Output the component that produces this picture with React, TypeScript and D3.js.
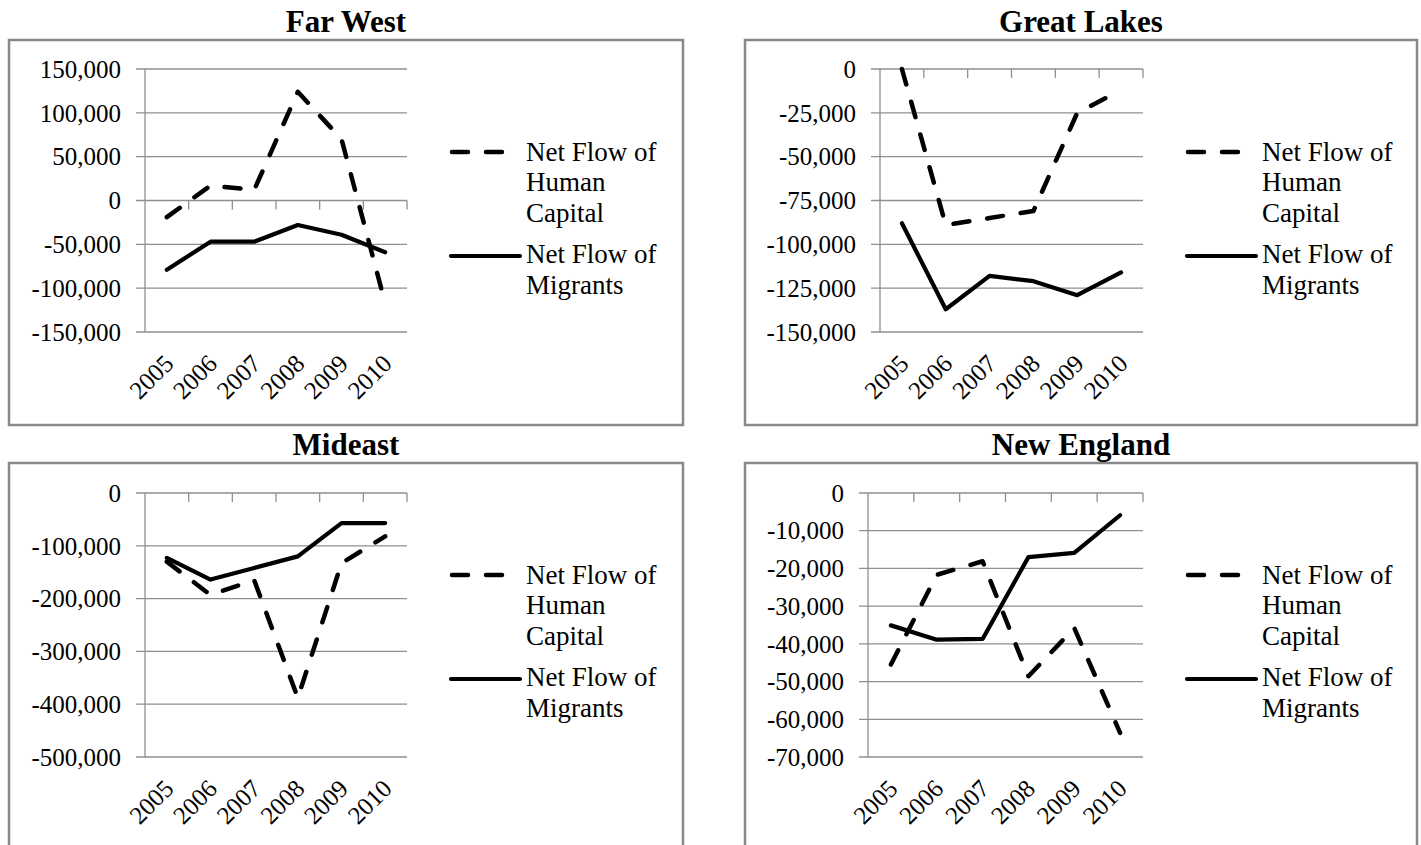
import React from 'react';
import * as d3 from 'd3';

const years = ['2005', '2006', '2007', '2008', '2009', '2010'];

const farWestHuman = [-19000, 17000, 12000, 124000, 70000, -117000];
const farWestMigrants = [-79000, -47000, -47000, -28000, -39000, -59000];
const greatLakesHuman = [0, -89000, -85000, -81000, -25000, -12000];
const greatLakesMigrants = [-88000, -137000, -118000, -121000, -129000, -116000];
const mideastHuman = [-130000, -193000, -165000, -388000, -133000, -82000];
const mideastMigrants = [-123000, -164000, -142000, -120000, -57000, -57000];
const newEnglandHuman = [-45500, -21700, -18100, -48600, -35800, -63600];
const newEnglandMigrants = [-35100, -38900, -38700, -17000, -15900, -5900];

const farWestTicks = [150000, 100000, 50000, 0, -50000, -100000, -150000];
const greatLakesTicks = [0, -25000, -50000, -75000, -100000, -125000, -150000];
const mideastTicks = [0, -100000, -200000, -300000, -400000, -500000];
const newEnglandTicks = [0, -10000, -20000, -30000, -40000, -50000, -60000, -70000];

const humanLegend = ['Net Flow of', 'Human', 'Capital'];
const migrantLegend = ['Net Flow of', 'Migrants'];

const fmt = d3
  .formatLocale({ decimal: '.', thousands: ',', grouping: [3], currency: ['$', ''], minus: '-' })
  .format(',');

const FONT = '"Liberation Serif", "Times New Roman", serif';
const GRID = '#8f8f8f';
const BORDER = '#898989';

type PanelProps = {
  title: string;
  human: number[];
  migrants: number[];
  ticks: number[];
  boxX: number;
  boxY: number;
  boxW: number;
  boxH: number;
  plotLeft: number;
  plotRight: number;
  plotTop: number;
  plotBottom: number;
};

function Panel(p: PanelProps) {
  const domain = d3.extent(p.ticks) as [number, number];
  const y = d3.scaleLinear().domain(domain).range([p.plotBottom, p.plotTop]);
  const x = d3.scaleBand<string>().domain(years).range([p.plotLeft, p.plotRight]).padding(0);
  const step = x.step();
  const cx = (d: string) => (x(d) as number) + step / 2;
  const line = d3
    .line<number>()
    .x((_, i) => cx(years[i]))
    .y((v) => y(v));
  const axisY = y(Math.min(Math.max(0, domain[0]), domain[1]));
  const lx = p.boxX + 441;
  return (
    <g>
      <rect x={p.boxX} y={p.boxY} width={p.boxW} height={p.boxH} fill="#fff" stroke={BORDER} strokeWidth={2.5} />
      <text
        x={p.boxX + p.boxW / 2}
        y={p.boxY - 8}
        textAnchor="middle"
        fontFamily={FONT}
        fontWeight="bold"
        fontSize={31}
      >
        {p.title}
      </text>
      {p.ticks.map((t) => (
        <g key={t}>
          <line x1={p.plotLeft - 9} x2={p.plotRight} y1={y(t)} y2={y(t)} stroke={GRID} strokeWidth={1.3} />
          <text
            x={p.plotLeft - 24}
            y={y(t)}
            dy="0.35em"
            textAnchor="end"
            fontFamily={FONT}
            fontSize={25}
          >
            {fmt(t)}
          </text>
        </g>
      ))}
      <line x1={p.plotLeft} x2={p.plotLeft} y1={p.plotTop} y2={p.plotBottom} stroke={GRID} strokeWidth={1.3} />
      {years.map((yr) => (
        <line
          key={'t' + yr}
          x1={(x(yr) as number) + step}
          x2={(x(yr) as number) + step}
          y1={axisY}
          y2={axisY + 9}
          stroke={GRID}
          strokeWidth={1.3}
        />
      ))}
      {years.map((yr) => (
        <text
          key={'l' + yr}
          transform={`translate(${cx(yr) + 2},${p.plotBottom + 27}) rotate(-45)`}
          dy="0.35em"
          textAnchor="end"
          fontFamily={FONT}
          fontSize={25}
        >
          {yr}
        </text>
      ))}
      <path
        d={line(p.migrants) as string}
        fill="none"
        stroke="#000"
        strokeWidth={4.2}
        strokeLinejoin="round"
        strokeLinecap="round"
      />
      <path
        d={line(p.human) as string}
        fill="none"
        stroke="#000"
        strokeWidth={4.5}
        strokeDasharray="16,18"
        strokeLinejoin="round"
        strokeLinecap="round"
      />
      <line
        x1={lx + 2}
        x2={lx + 64}
        y1={p.boxY + 112}
        y2={p.boxY + 112}
        stroke="#000"
        strokeWidth={4.5}
        strokeDasharray="16,18"
        strokeLinecap="round"
      />
      {humanLegend.map((s, i) => (
        <text key={'h' + i} x={p.boxX + 517} y={p.boxY + 120.5 + i * 30.5} fontFamily={FONT} fontSize={27}>
          {s}
        </text>
      ))}
      <line
        x1={lx + 1}
        x2={lx + 70}
        y1={p.boxY + 216}
        y2={p.boxY + 216}
        stroke="#000"
        strokeWidth={4.2}
        strokeLinecap="round"
      />
      {migrantLegend.map((s, i) => (
        <text key={'m' + i} x={p.boxX + 517} y={p.boxY + 223 + i * 30.5} fontFamily={FONT} fontSize={27}>
          {s}
        </text>
      ))}
    </g>
  );
}

export default function App() {
  return (
    <svg
      width={1421}
      height={845}
      style={{ position: 'absolute', left: 0, top: 0, background: '#fff' }}
    >
      <rect x={0} y={0} width={1421} height={845} fill="#fff" />
      <Panel
        title="Far West"
        human={farWestHuman}
        migrants={farWestMigrants}
        ticks={farWestTicks}
        boxX={9}
        boxY={40}
        boxW={674}
        boxH={385}
        plotLeft={145}
        plotRight={407}
        plotTop={69}
        plotBottom={332}
      />
      <Panel
        title="Great Lakes"
        human={greatLakesHuman}
        migrants={greatLakesMigrants}
        ticks={greatLakesTicks}
        boxX={745}
        boxY={40}
        boxW={672}
        boxH={385}
        plotLeft={880}
        plotRight={1143}
        plotTop={69}
        plotBottom={332}
      />
      <Panel
        title="Mideast"
        human={mideastHuman}
        migrants={mideastMigrants}
        ticks={mideastTicks}
        boxX={9}
        boxY={463}
        boxW={674}
        boxH={385}
        plotLeft={145}
        plotRight={407}
        plotTop={493}
        plotBottom={757}
      />
      <Panel
        title="New England"
        human={newEnglandHuman}
        migrants={newEnglandMigrants}
        ticks={newEnglandTicks}
        boxX={745}
        boxY={463}
        boxW={672}
        boxH={385}
        plotLeft={868}
        plotRight={1143}
        plotTop={493}
        plotBottom={757}
      />
    </svg>
  );
}
